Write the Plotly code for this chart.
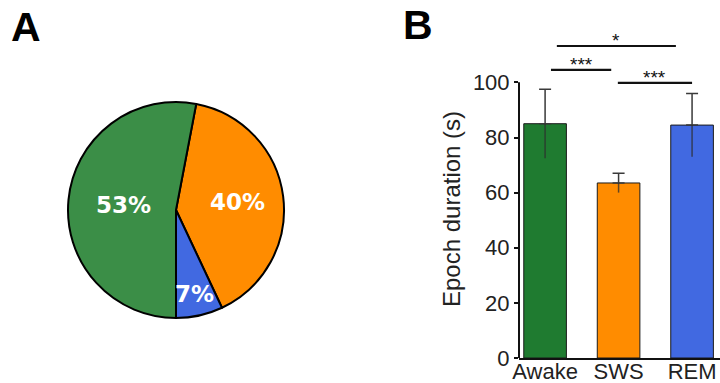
import math
import plotly.graph_objects as go

# Panel A: share of recording time per state
pie_labels = ["SWS", "REM", "Awake"]
pie_values = [40, 7, 53]
pie_colors = ["#ff8c00", "#4169e1", "#3b8e47"]
pie_label_radius = [0.57, 0.80, 0.49]   # label distance from centre, fraction of radius

# Panel B: mean epoch duration per state (s) with SD
states = ["Awake", "SWS", "REM"]
durations = [85.0, 63.5, 84.5]
duration_sd = [12.5, 3.5, 11.5]
bar_colors = ["#1f7b30", "#ff8c00", "#4169e1"]
y_ticks = [0, 20, 40, 60, 80, 100]

# significance brackets: (from, to, height, label)
sig_pairs = [(0.16, 1.78, 113.2, "*"),
             (0.08, 0.90, 104.5, "***"),
             (0.99, 2.00, 99.8, "***")]

W, H = 720, 383
FONT = "Liberation Sans, Arial, sans-serif"
PIE_ROTATION = 10.8
pie_cx, pie_cy, pie_r = 176, 210, 108       # pixels
pie_dom_x = [(pie_cx - pie_r) / W, (pie_cx + pie_r) / W]
pie_dom_y = [(H - pie_cy - pie_r) / H, (H - pie_cy + pie_r) / H]

fig = go.Figure()

fig.add_trace(go.Pie(
    labels=pie_labels, values=pie_values, sort=False,
    direction="clockwise", rotation=PIE_ROTATION,
    marker=dict(colors=pie_colors, line=dict(color="black", width=2)),
    textinfo="none",
    showlegend=False, hoverinfo="label+percent",
    domain=dict(x=pie_dom_x, y=pie_dom_y),
))

annotations = []
# percentage labels placed at the middle angle of each slice
total = sum(pie_values)
start = PIE_ROTATION
for v, rf in zip(pie_values, pie_label_radius):
    span = 360.0 * v / total
    mid = math.radians(start + span / 2)
    start += span
    px = pie_cx + rf * pie_r * math.sin(mid)
    py = pie_cy - rf * pie_r * math.cos(mid)
    annotations.append(dict(
        xref="paper", yref="paper", x=px / W, y=1 - py / H,
        text=f"{round(100 * v / total)}%", showarrow=False,
        xanchor="center", yanchor="middle",
        font=dict(family="DejaVu Sans", size=23, color="white", weight="bold")))

fig.add_trace(go.Bar(
    x=states, y=durations,
    marker=dict(color=bar_colors, line=dict(color="#1a1a1a", width=1)),
    width=0.58,
    error_y=dict(type="data", symmetric=False, array=duration_sd,
                 arrayminus=[0] * len(states), color="#3a3a3a",
                 thickness=1.5, width=6),
    showlegend=False, xaxis="x", yaxis="y",
))

# lower half of the error bars, without caps
fig.add_trace(go.Scatter(
    x=states, y=durations, mode="markers",
    marker=dict(size=1, color="rgba(0,0,0,0)"),
    error_y=dict(type="data", symmetric=False, array=[0] * len(states),
                 arrayminus=duration_sd, color="rgba(45,45,45,0.75)",
                 thickness=1.5, width=0),
    showlegend=False, hoverinfo="skip", xaxis="x", yaxis="y",
))

shapes = []
for x0, x1, yv, lab in sig_pairs:
    shapes.append(dict(type="line", xref="x", yref="y", x0=x0, x1=x1,
                       y0=yv, y1=yv, line=dict(color="#111", width=2.2)))
    annotations.append(dict(xref="x", yref="y", x=(x0 + x1) / 2, y=yv,
                            text=lab, showarrow=False, yanchor="bottom",
                            yshift=-7,
                            font=dict(family=FONT, size=19, color="#111")))

# y axis line spanning only the ticked range
shapes.append(dict(type="line", xref="paper", yref="y", x0=519 / W, x1=519 / W,
                   y0=y_ticks[0], y1=y_ticks[-1], line=dict(color="#111", width=2)))

annotations += [
    dict(xref="paper", yref="paper", x=9 / W, y=1 - 27 / H, text="<b>A</b>",
         showarrow=False, xanchor="left", yanchor="middle",
         font=dict(family=FONT, size=41, color="black")),
    dict(xref="paper", yref="paper", x=401 / W, y=1 - 25 / H, text="<b>B</b>",
         showarrow=False, xanchor="left", yanchor="middle",
         font=dict(family=FONT, size=41, color="black")),
    # y axis title
    dict(xref="paper", yref="paper", x=452 / W, y=1 - 209 / H,
         text="Epoch duration (s)", textangle=-90, showarrow=False,
         xanchor="center", yanchor="middle",
         font=dict(family=FONT, size=24, color="#222")),
]

plot_top, plot_bottom = 30, 358     # pixels
fig.update_layout(
    width=W, height=H, autosize=False,
    margin=dict(l=0, r=0, t=0, b=0),
    paper_bgcolor="white", plot_bgcolor="white",
    font=dict(family=FONT, color="#222"),
    xaxis=dict(domain=[519 / W, 1.0], range=[-0.355, 2.38], automargin=False,
               showline=True, linecolor="#111", linewidth=2,
               ticks="", showgrid=False, zeroline=False,
               ticklabelstandoff=-7,
               tickfont=dict(family=FONT, size=22, color="#222")),
    yaxis=dict(domain=[(H - plot_bottom) / H, (H - plot_top) / H], range=[0, 119],
               automargin=False,
               tickvals=y_ticks, ticks="outside",
               ticklen=4, tickwidth=1.5, tickcolor="#111",
               showline=False, showgrid=False, zeroline=False,
               tickfont=dict(family=FONT, size=22, color="#222")),
    shapes=shapes, annotations=annotations,
)

fig.write_html("out.html", config={"responsive": False})
